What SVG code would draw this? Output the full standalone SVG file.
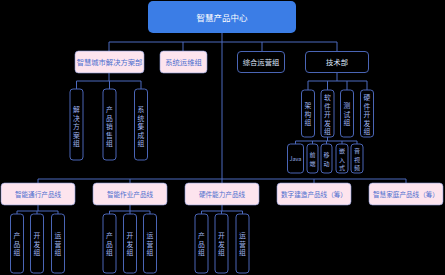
<svg xmlns="http://www.w3.org/2000/svg" width="445" height="275" viewBox="0 0 445 275">
<style>
text{font-family:"Noto Sans CJK SC","Liberation Sans",sans-serif;text-anchor:middle;dominant-baseline:central}
.top{fill:#3b7de6}
.pink{fill:#fde4ee;stroke:#8a9ad8;stroke-width:0.6}
.dark{fill:#000;stroke:#4a65b5;stroke-width:1}
.tw{fill:#ffffff;font-size:8.5px}
.tp{fill:#4d6fcf;font-size:7.3px}
.tpb{fill:#4d6fcf;font-size:6.6px}
.td{fill:#dfe6fb;font-size:7.3px}
.tv{fill:#9fb4ef;font-size:6.8px}
.ts{fill:#9fb4ef;font-size:6px}
.ln{fill:none;stroke:#4d6bbf;stroke-width:1}
</style>
<rect width="445" height="275" fill="#000"/>
<g id="connectors">
<path class="ln" d="M222 33V183M109 42H337M109 42V51M183 42V51M262 42V51M337 42V51"/>
<path class="ln" d="M109 73V81M76.5 81H141M76.5 81V89M109.5 81V89M141 81V89"/>
<path class="ln" d="M337 73V81M308 81H367M308 81V90M327.5 81V90M347 81V90M367 81V90"/>
<path class="ln" d="M327.5 137V141M295.5 141H357M295.5 141V144M312.5 141V144M326.5 141V144M342 141V144M357 141V144"/>
<path class="ln" d="M38 179H406M38 179V183M130 179V183M314 179V183M406 179V183"/>
<path class="ln" d="M38 205V211M17 211H58M17 211V214M37 211V214M58 211V214"/>
<path class="ln" d="M130 205V211M109.5 211H150M109.5 211V214M130 211V214M150 211V214"/>
<path class="ln" d="M222 205V211M201.5 211H242.5M201.5 211V214M221.5 211V214M242.5 211V214"/>
</g>
<g id="n-center"><rect class="top" x="148" y="1" width="148" height="32" rx="5"/><text class="tw" x="222" y="17">智慧产品中心</text></g>
<g id="n-city"><rect class="pink" x="75" y="51" width="69" height="22" rx="3.5"/><text class="tp" x="109.5" y="62">智慧城市解决方案部</text></g>
<g id="n-ops"><rect class="pink" x="160" y="51" width="47" height="22" rx="3.5"/><text class="tp" x="183.5" y="62">系统运维组</text></g>
<g id="n-gen"><rect class="dark" x="237.5" y="51.5" width="47" height="21" rx="3.5"/><text class="td" x="261" y="62">综合运营组</text></g>
<g id="n-tech"><rect class="dark" x="305.5" y="51.5" width="63" height="21" rx="3.5"/><text class="td" x="337" y="62">技术部</text></g>

<g id="n-sol"><rect class="dark" x="70" y="89" width="13" height="71" rx="3"/><text class="tv" x="76.5"><tspan x="76.5" y="109">解</tspan><tspan x="76.5" y="117.5">决</tspan><tspan x="76.5" y="126">方</tspan><tspan x="76.5" y="134.5">案</tspan><tspan x="76.5" y="143">组</tspan></text></g>
<g id="n-sale"><rect class="dark" x="103" y="89" width="13" height="71" rx="3"/><text class="tv"><tspan x="109.5" y="109">产</tspan><tspan x="109.5" y="117.5">品</tspan><tspan x="109.5" y="126">销</tspan><tspan x="109.5" y="134.5">售</tspan><tspan x="109.5" y="143">组</tspan></text></g>
<g id="n-int"><rect class="dark" x="134.5" y="89" width="13" height="71" rx="3"/><text class="tv"><tspan x="141" y="109">系</tspan><tspan x="141" y="117.5">统</tspan><tspan x="141" y="126">集</tspan><tspan x="141" y="134.5">成</tspan><tspan x="141" y="143">组</tspan></text></g>

<g id="n-arch"><rect class="dark" x="301.5" y="90" width="13" height="47" rx="3"/><text class="tv"><tspan x="308" y="105">架</tspan><tspan x="308" y="113.5">构</tspan><tspan x="308" y="122">组</tspan></text></g>
<g id="n-sw"><rect class="dark" x="321" y="90" width="13" height="47" rx="3"/><text class="tv"><tspan x="327.5" y="97">软</tspan><tspan x="327.5" y="105.5">件</tspan><tspan x="327.5" y="114">开</tspan><tspan x="327.5" y="122.5">发</tspan><tspan x="327.5" y="131">组</tspan></text></g>
<g id="n-test"><rect class="dark" x="340.5" y="90" width="13" height="47" rx="3"/><text class="tv"><tspan x="347" y="105">测</tspan><tspan x="347" y="113.5">试</tspan><tspan x="347" y="122">组</tspan></text></g>
<g id="n-hw"><rect class="dark" x="360.5" y="90" width="13" height="47" rx="3"/><text class="tv"><tspan x="367" y="97">硬</tspan><tspan x="367" y="105.5">件</tspan><tspan x="367" y="114">开</tspan><tspan x="367" y="122.5">发</tspan><tspan x="367" y="131">组</tspan></text></g>

<g id="n-java"><rect class="dark" x="287.5" y="144" width="16" height="29" rx="3"/><text class="ts" x="295.5" y="158.5" style="font-size:5.5px">Java</text></g>
<g id="n-fe"><rect class="dark" x="307" y="144" width="11" height="29" rx="3"/><text class="ts"><tspan x="312.5" y="154.2">前</tspan><tspan x="312.5" y="162.8">端</tspan></text></g>
<g id="n-mob"><rect class="dark" x="321" y="144" width="11" height="29" rx="3"/><text class="ts"><tspan x="326.5" y="154.2">移</tspan><tspan x="326.5" y="162.8">动</tspan></text></g>
<g id="n-emb"><rect class="dark" x="336" y="144" width="12" height="29" rx="3"/><text class="ts"><tspan x="342" y="150">嵌</tspan><tspan x="342" y="158.5">入</tspan><tspan x="342" y="167">式</tspan></text></g>
<g id="n-av"><rect class="dark" x="351" y="144" width="12" height="29" rx="3"/><text class="ts"><tspan x="357" y="150">音</tspan><tspan x="357" y="158.5">视</tspan><tspan x="357" y="167">频</tspan></text></g>

<g id="n-pl1"><rect class="pink" x="1" y="183" width="74" height="22" rx="3.5"/><text class="tpb" x="38" y="194">智能通行产品线</text></g>
<g id="n-pl2"><rect class="pink" x="93" y="183" width="74" height="22" rx="3.5"/><text class="tpb" x="130" y="194">智能作业产品线</text></g>
<g id="n-pl3"><rect class="pink" x="185" y="183" width="74" height="22" rx="3.5"/><text class="tpb" x="222" y="194">硬件能力产品线</text></g>
<g id="n-pl4"><rect class="pink" x="277" y="183" width="74" height="22" rx="3.5"/><text class="tpb" x="314" y="194">数字建造产品线（筹）</text></g>
<g id="n-pl5"><rect class="pink" x="369" y="183" width="74" height="22" rx="3.5"/><text class="tpb" x="406" y="194">智慧家庭产品线（筹）</text></g>

<g id="n-p1a"><rect class="dark" x="10.5" y="214" width="13" height="59" rx="3"/><text class="tv"><tspan x="17" y="235">产</tspan><tspan x="17" y="243.5">品</tspan><tspan x="17" y="252">组</tspan></text></g>
<g id="n-p1b"><rect class="dark" x="30.5" y="214" width="13" height="59" rx="3"/><text class="tv"><tspan x="37" y="235">开</tspan><tspan x="37" y="243.5">发</tspan><tspan x="37" y="252">组</tspan></text></g>
<g id="n-p1c"><rect class="dark" x="51.5" y="214" width="13" height="59" rx="3"/><text class="tv"><tspan x="58" y="235">运</tspan><tspan x="58" y="243.5">营</tspan><tspan x="58" y="252">组</tspan></text></g>

<g id="n-p2a"><rect class="dark" x="103" y="214" width="13" height="59" rx="3"/><text class="tv"><tspan x="109.5" y="235">产</tspan><tspan x="109.5" y="243.5">品</tspan><tspan x="109.5" y="252">组</tspan></text></g>
<g id="n-p2b"><rect class="dark" x="123.5" y="214" width="13" height="59" rx="3"/><text class="tv"><tspan x="130" y="235">开</tspan><tspan x="130" y="243.5">发</tspan><tspan x="130" y="252">组</tspan></text></g>
<g id="n-p2c"><rect class="dark" x="143.5" y="214" width="13" height="59" rx="3"/><text class="tv"><tspan x="150" y="235">运</tspan><tspan x="150" y="243.5">营</tspan><tspan x="150" y="252">组</tspan></text></g>

<g id="n-p3a"><rect class="dark" x="195" y="214" width="13" height="59" rx="3"/><text class="tv"><tspan x="201.5" y="235">产</tspan><tspan x="201.5" y="243.5">品</tspan><tspan x="201.5" y="252">组</tspan></text></g>
<g id="n-p3b"><rect class="dark" x="215" y="214" width="13" height="59" rx="3"/><text class="tv"><tspan x="221.5" y="235">开</tspan><tspan x="221.5" y="243.5">发</tspan><tspan x="221.5" y="252">组</tspan></text></g>
<g id="n-p3c"><rect class="dark" x="236" y="214" width="13" height="59" rx="3"/><text class="tv"><tspan x="242.5" y="235">运</tspan><tspan x="242.5" y="243.5">营</tspan><tspan x="242.5" y="252">组</tspan></text></g>
</svg>
